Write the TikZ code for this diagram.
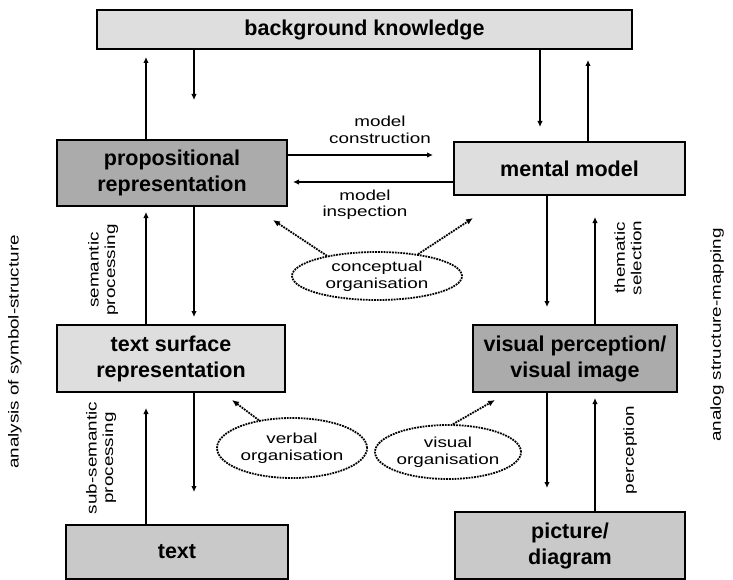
\documentclass[tikz,border=0pt]{standalone}
\usepackage{fontspec}
\setmainfont{Liberation Sans}
\newfontfamily\widefont{Liberation Sans}[FakeStretch=1.3]
\usetikzlibrary{arrows.meta,shapes.geometric}
\definecolor{boxlight}{gray}{0.87}
\definecolor{boxmid}{gray}{0.79}
\definecolor{boxdark}{gray}{0.67}

\begin{document}
\begin{tikzpicture}[x=1pt, y=-1pt,
	box/.style={draw, line width=1.6pt, outer sep=0pt, align=center, font=\fontsize{21.5}{26}\selectfont\bfseries},
	organ/.style={draw, ellipse, densely dotted, line width=1.8pt, align=center, inner sep=0pt, font=\widefont\fontsize{14.5}{16.5}\selectfont},
	lab/.style={align=center, font=\widefont\fontsize{14.5}{16.5}\selectfont},
	arr/.style={line width=1.3pt, -{Latex[length=6pt,width=5.5pt]}},
	dotarr/.style={densely dotted, line width=1.8pt, -{Latex[length=7pt,width=6pt]}}]
	\useasboundingbox (0,0) rectangle (733,580);
	% boxes
	\node[box, fill=boxlight, minimum width=535pt, minimum height=39pt] (bk) at (364.5, 29.5) {background knowledge};
	\node[box, fill=boxdark, minimum width=230pt, minimum height=66pt] (prop) at (172, 173) {propositional\\representation};
	\node[box, fill=boxlight, minimum width=231pt, minimum height=53pt] (mental) at (569.5, 168.5) {mental model};
	\node[box, fill=boxlight, minimum width=228pt, minimum height=67pt] (tsr) at (171, 358.5) {text surface\\representation};
	\node[box, fill=boxdark, minimum width=204pt, minimum height=67pt] (vis) at (575, 358.5) {visual perception/\\visual image};
	\node[box, fill=boxmid, minimum width=222pt, minimum height=54pt] (txt) at (177, 552) {text};
	\node[box, fill=boxmid, minimum width=230pt, minimum height=67pt] (pic) at (570, 545.5) {picture/\\diagram};
	% organisation ellipses
	\node[organ, minimum width=170pt, minimum height=48pt] (concept) at (377, 276) {conceptual\\organisation};
	\node[organ, minimum width=150pt, minimum height=60pt] (verbal) at (292, 448) {verbal\\organisation};
	\node[organ, minimum width=146pt, minimum height=54pt] (visorg) at (448, 452) {visual\\organisation};
	% columns of the vertical arrows
	\coordinate (lup) at (146, 0);
	\coordinate (ldown) at (194, 0);
	\coordinate (rdowntop) at (540, 0);
	\coordinate (ruptop) at (588, 0);
	\coordinate (rdown) at (547, 0);
	\coordinate (rup) at (595, 0);
	\coordinate (rowc) at (0, 155);
	\coordinate (rowi) at (0, 182);
	% vertical arrows
	\draw[arr, shorten >=8pt] (prop.north -| lup) -- (bk.south -| lup);
	\draw[arr, shorten >=40pt] (bk.south -| ldown) -- (prop.north -| ldown);
	\draw[arr, shorten >=15pt] (bk.south -| rdowntop) -- (mental.north -| rdowntop);
	\draw[arr, shorten >=11pt] (mental.north -| ruptop) -- (bk.south -| ruptop);
	\draw[arr, shorten >=6pt] (tsr.north -| lup) -- (prop.south -| lup);
	\draw[arr, shorten >=8pt] (prop.south -| ldown) -- (tsr.north -| ldown);
	\draw[arr, shorten >=18pt] (mental.south -| rdown) -- (vis.north -| rdown);
	\draw[arr, shorten >=22pt] (vis.north -| rup) -- (mental.south -| rup);
	\draw[arr, shorten >=16pt] (txt.north -| lup) -- (tsr.south -| lup);
	\draw[arr, shorten >=33pt] (tsr.south -| ldown) -- (txt.north -| ldown);
	\draw[arr, shorten >=24pt] (vis.south -| rdown) -- (pic.north -| rdown);
	\draw[arr, shorten >=6pt] (pic.north -| rup) -- (vis.south -| rup);
	% horizontal arrows
	\draw[arr, shorten >=21pt] (prop.east |- rowc) -- (mental.west |- rowc);
	\draw[arr, shorten >=6pt] (mental.west |- rowi) -- (prop.east |- rowi);
	% dotted arrows
	\coordinate (cpl) at (273, 220);
	\coordinate (cpr) at (473, 218);
	\coordinate (vbl) at (232, 400);
	\coordinate (vsr) at (495, 400);
	\draw[dotarr] (concept.158) -- (cpl);
	\draw[dotarr] (concept.28) -- (cpr);
	\draw[dotarr] (verbal.140) -- (vbl);
	\draw[dotarr] (visorg.80) -- (vsr);
	% labels
	\node[lab] (constr) at (380, 130) {model\\construction};
	\node[lab] (inspect) at (365, 205) {model\\inspection};
	\node[lab, rotate=90] (sem) at (103, 270) {semantic\\processing};
	\node[lab, rotate=90] (subsem) at (101, 458) {sub-semantic\\processing};
	\node[lab, rotate=90] (them) at (628, 258) {thematic\\selection};
	\node[lab, rotate=90] (perc) at (630, 450) {perception};
	\node[lab, rotate=90] (lside) at (15, 352) {analysis of symbol-structure};
	\node[lab, rotate=90] (rside) at (717, 335) {analog structure-mapping};
\end{tikzpicture}
\end{document}
